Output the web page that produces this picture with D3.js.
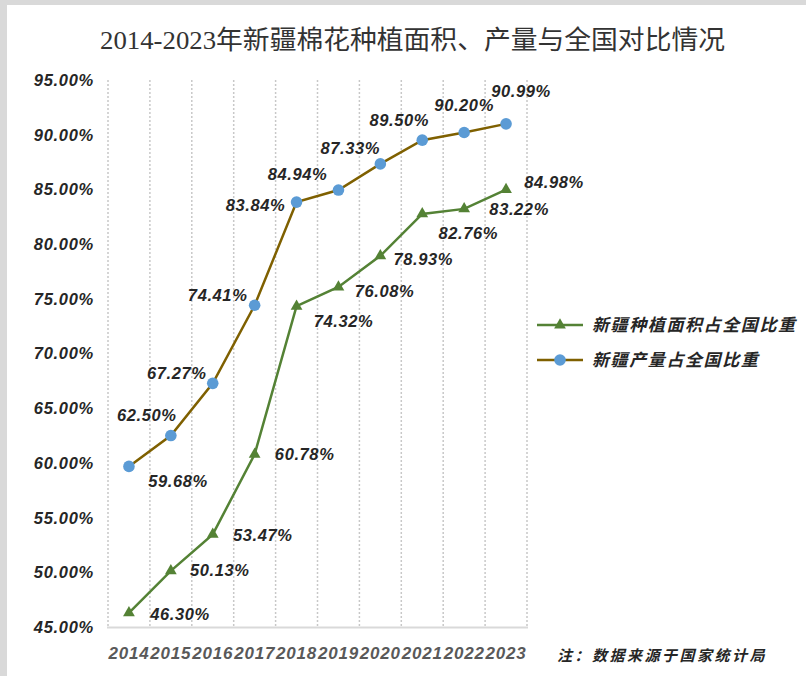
<!DOCTYPE html>
<html>
<head>
<meta charset="utf-8">
<script src="https://cdn.jsdelivr.net/npm/d3@7"></script>
<style>
  body { margin: 0; background: #fff; }
  svg { display: block; }
</style>
</head>
<body>
<div id="chart"></div>
<script>
// chart data
var years = ["2014","2015","2016","2017","2018","2019","2020","2021","2022","2023"];
var areaShare = [46.30, 50.13, 53.47, 60.78, 74.32, 76.08, 78.93, 82.76, 83.22, 84.98];   // 新疆种植面积占全国比重
var outputShare = [59.68, 62.50, 67.27, 74.41, 83.84, 84.94, 87.33, 89.50, 90.20, 90.99]; // 新疆产量占全国比重
var yTicks = [45, 50, 55, 60, 65, 70, 75, 80, 85, 90, 95];
var seriesNames = ["新疆种植面积占全国比重", "新疆产量占全国比重"];

// where the data labels sit, relative to their point (label centre)
var areaLabelOff = [[51,1],[49,-1],[50,1],[50,0],[47,15],[46,4],[43,3],[46,19],[55,0],[48,-8]];
var outputLabelOff = [[49,15],[-24,-20],[-36,-10],[-37,-10],[-41,3],[-41,-16],[-30,-16],[-23,-20],[0,-27],[15,-33]];

var width = 806, height = 676;
var greenCol = "#548235", brownCol = "#7F6000", blueCol = "#5B9BD5";
var labelFont = "'Liberation Sans', Arial, sans-serif";

var svg = d3.select("#chart").append("svg")
  .attr("width", width)
  .attr("height", height);

// grey frame at top / left edge
svg.append("rect").attr("width", width).attr("height", height).attr("fill", "#d9d9d9");
svg.append("rect").attr("x", 7).attr("y", 5).attr("width", width).attr("height", height).attr("fill", "#fff");

// title
svg.append("text")
  .attr("x", 100)
  .attr("y", 49)
  .attr("textLength", 625)
  .attr("lengthAdjust", "spacingAndGlyphs")
  .style("font-family", "'Liberation Serif', 'Noto Sans CJK SC', serif")
  .style("font-size", "26px")
  .attr("fill", "#333")
  .text("2014-2023年新疆棉花种植面积、产量与全国对比情况");

var x = d3.scaleBand().domain(years).range([108, 527]);
var y = d3.scaleLinear().domain([45, 95]).range([627, 80]);
var cx = function(i) { return x(years[i]) + x.bandwidth() / 2; };

// dotted vertical gridlines on category boundaries
var bounds = years.map(function(d) { return x(d); }).concat([527]);
svg.append("g").selectAll("line")
  .data(bounds)
  .enter().append("line")
  .attr("x1", function(d) { return d; })
  .attr("x2", function(d) { return d; })
  .attr("y1", 80)
  .attr("y2", 627)
  .attr("stroke", "#c8c8c8")
  .attr("stroke-width", 1.5)
  .attr("stroke-dasharray", "2,2");

// bottom axis line
svg.append("line")
  .attr("x1", 107).attr("x2", 528)
  .attr("y1", 627.5).attr("y2", 627.5)
  .attr("stroke", "#d9d9d9")
  .attr("stroke-width", 2);

// y tick labels
svg.append("g").selectAll("text")
  .data(yTicks)
  .enter().append("text")
  .attr("x", 94)
  .attr("y", function(d) { return y(d); })
  .attr("dy", "0.36em")
  .attr("text-anchor", "end")
  .style("font-family", labelFont)
  .style("font-size", "16.5px")
  .style("font-weight", "bold")
  .style("font-style", "italic")
  .style("letter-spacing", "0.7px")
  .attr("fill", "#262626")
  .text(function(d) { return d.toFixed(2) + "%"; });

// x tick labels
svg.append("g").selectAll("text")
  .data(years)
  .enter().append("text")
  .attr("x", function(d) { return x(d) + x.bandwidth() / 2; })
  .attr("y", 659)
  .attr("text-anchor", "middle")
  .style("font-family", labelFont)
  .style("font-size", "17px")
  .style("font-weight", "bold")
  .style("font-style", "italic")
  .style("letter-spacing", "0.8px")
  .attr("fill", "#595959")
  .text(function(d) { return d; });

var line = d3.line()
  .x(function(d, i) { return cx(i); })
  .y(function(d) { return y(d); });

// green series
svg.append("path")
  .datum(areaShare)
  .attr("d", line)
  .attr("fill", "none")
  .attr("stroke", greenCol)
  .attr("stroke-width", 2.5);

var tri = d3.symbol().type(d3.symbolTriangle).size(60);
svg.append("g").selectAll("path")
  .data(areaShare)
  .enter().append("path")
  .attr("d", tri)
  .attr("transform", function(d, i) { return "translate(" + cx(i) + "," + y(d) + ")"; })
  .attr("fill", greenCol);

// brown series with blue dots
svg.append("path")
  .datum(outputShare)
  .attr("d", line)
  .attr("fill", "none")
  .attr("stroke", brownCol)
  .attr("stroke-width", 2.5);

svg.append("g").selectAll("circle")
  .data(outputShare)
  .enter().append("circle")
  .attr("cx", function(d, i) { return cx(i); })
  .attr("cy", function(d) { return y(d); })
  .attr("r", 5.8)
  .attr("fill", blueCol);

// data labels
function addLabels(vals, offs) {
  svg.append("g").selectAll("text")
    .data(vals)
    .enter().append("text")
    .attr("x", function(d, i) { return cx(i) + offs[i][0]; })
    .attr("y", function(d, i) { return y(d) + offs[i][1]; })
    .attr("dy", "0.36em")
    .attr("text-anchor", "middle")
    .style("font-family", labelFont)
    .style("font-size", "16.5px")
    .style("font-weight", "bold")
    .style("font-style", "italic")
    .style("letter-spacing", "0.6px")
    .attr("fill", "#262626")
    .text(function(d) { return d.toFixed(2) + "%"; });
}
addLabels(areaShare, areaLabelOff);
addLabels(outputShare, outputLabelOff);

// legend
var legend = svg.append("g");
var legendY = [325, 360];
legend.selectAll("line")
  .data(seriesNames)
  .enter().append("line")
  .attr("x1", 537).attr("x2", 583)
  .attr("y1", function(d, i) { return legendY[i]; })
  .attr("y2", function(d, i) { return legendY[i]; })
  .attr("stroke", function(d, i) { return i === 0 ? greenCol : brownCol; })
  .attr("stroke-width", 2.5);
legend.append("path")
  .attr("d", tri)
  .attr("transform", "translate(560," + legendY[0] + ")")
  .attr("fill", greenCol);
legend.append("circle")
  .attr("cx", 560).attr("cy", legendY[1]).attr("r", 5.8)
  .attr("fill", blueCol);
legend.selectAll("text")
  .data(seriesNames)
  .enter().append("text")
  .attr("x", 592)
  .attr("y", function(d, i) { return legendY[i]; })
  .attr("dy", "0.36em")
  .style("font-family", "'Noto Sans CJK SC', sans-serif")
  .style("font-size", "17px")
  .style("font-weight", "bold")
  .style("font-style", "italic")
  .style("letter-spacing", "1.6px")
  .attr("fill", "#262626")
  .text(function(d) { return d; });

// source note
svg.append("text")
  .attr("x", 557)
  .attr("y", 661)
  .style("font-family", "'Noto Sans CJK SC', sans-serif")
  .style("font-size", "15px")
  .style("font-weight", "bold")
  .style("font-style", "italic")
  .style("letter-spacing", "2.5px")
  .attr("fill", "#262626")
  .text("注：数据来源于国家统计局");
</script>
</body>
</html>
